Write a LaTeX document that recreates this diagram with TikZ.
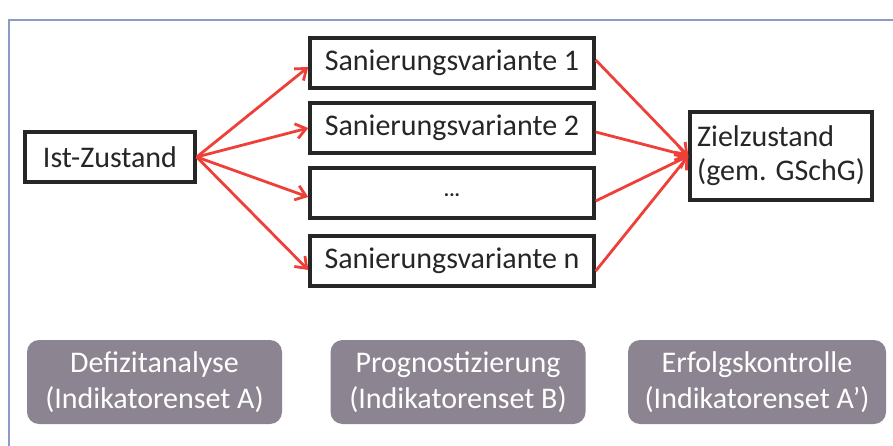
\documentclass[tikz,border=0pt]{standalone}
\usepackage{fontspec}
\setmainfont{Carlito}
\usetikzlibrary{arrows.meta}
\definecolor{arrred}{HTML}{EE4038}
\definecolor{phasegray}{HTML}{8C8490}
\definecolor{framecol}{HTML}{8A9CC4}
\tikzset{
  whitebox/.style={draw=black!85, line width=3.4pt, fill=white, minimum height=50pt, inner sep=0pt, font=\fontsize{30}{34}\selectfont, text=black!85},
  phasebox/.style={fill=phasegray, rounded corners=12pt, minimum width=255pt, minimum height=84pt, text=white, align=center, font=\fontsize{30}{36}\selectfont},
  arr/.style={draw=arrred, line width=2.8pt, -{Straight Barb[length=10pt,width=15pt,line width=2.8pt]}},
}
\begin{document}
\begin{tikzpicture}[x=1pt,y=-1pt]
\useasboundingbox (0,0) rectangle (893,446);
\draw[framecol, line width=1.4pt] (9,446) coordinate (fbl) -- (9,20) coordinate (ftl) -- (893,20) coordinate (ftr);
\node[whitebox, minimum width=170pt] (ist) at (110,157) {Ist-Zustand};
\node[whitebox, minimum width=284pt] (sv1) at (452,63) {Sanierungsvariante 1};
\node[whitebox, minimum width=284pt] (sv2) at (452,128) {Sanierungsvariante 2};
\node[whitebox, minimum width=284pt] (svd) at (452,193) {\raisebox{-8pt}{\fontsize{20}{20}\selectfont\textbf{...}}};
\node[whitebox, minimum width=284pt] (svn) at (452,261) {Sanierungsvariante n};
\node[whitebox, minimum width=182pt, minimum height=88pt, align=left] (ziel) at (781,156) {Zielzustand\\(gem. GSchG)};
\draw[arr] (ist.east) -- ([yshift=-4pt]sv1.west);
\draw[arr] (ist.east) -- (sv2.west);
\draw[arr] (ist.east) -- ([yshift=-4pt]svd.west);
\draw[arr] (ist.east) -- ([yshift=-9pt]svn.west);
\draw[arr] ([yshift=3pt]sv1.east) -- (ziel.west);
\draw[arr] ([yshift=-4pt]sv2.east) -- (ziel.west);
\draw[arr] ([yshift=-8pt]svd.east) -- (ziel.west);
\draw[arr] ([yshift=-10pt]svn.east) -- (ziel.west);
\node[phasebox] (p1) at (154.5,382) {Defizitanalyse\\(Indikatorenset A)};
\node[phasebox] (p2) at (458,382) {Prognostizierung\\(Indikatorenset B)};
\node[phasebox, minimum width=258pt] (p3) at (757,382) {Erfolgskontrolle\\(Indikatorenset A’)};
\end{tikzpicture}
\end{document}
